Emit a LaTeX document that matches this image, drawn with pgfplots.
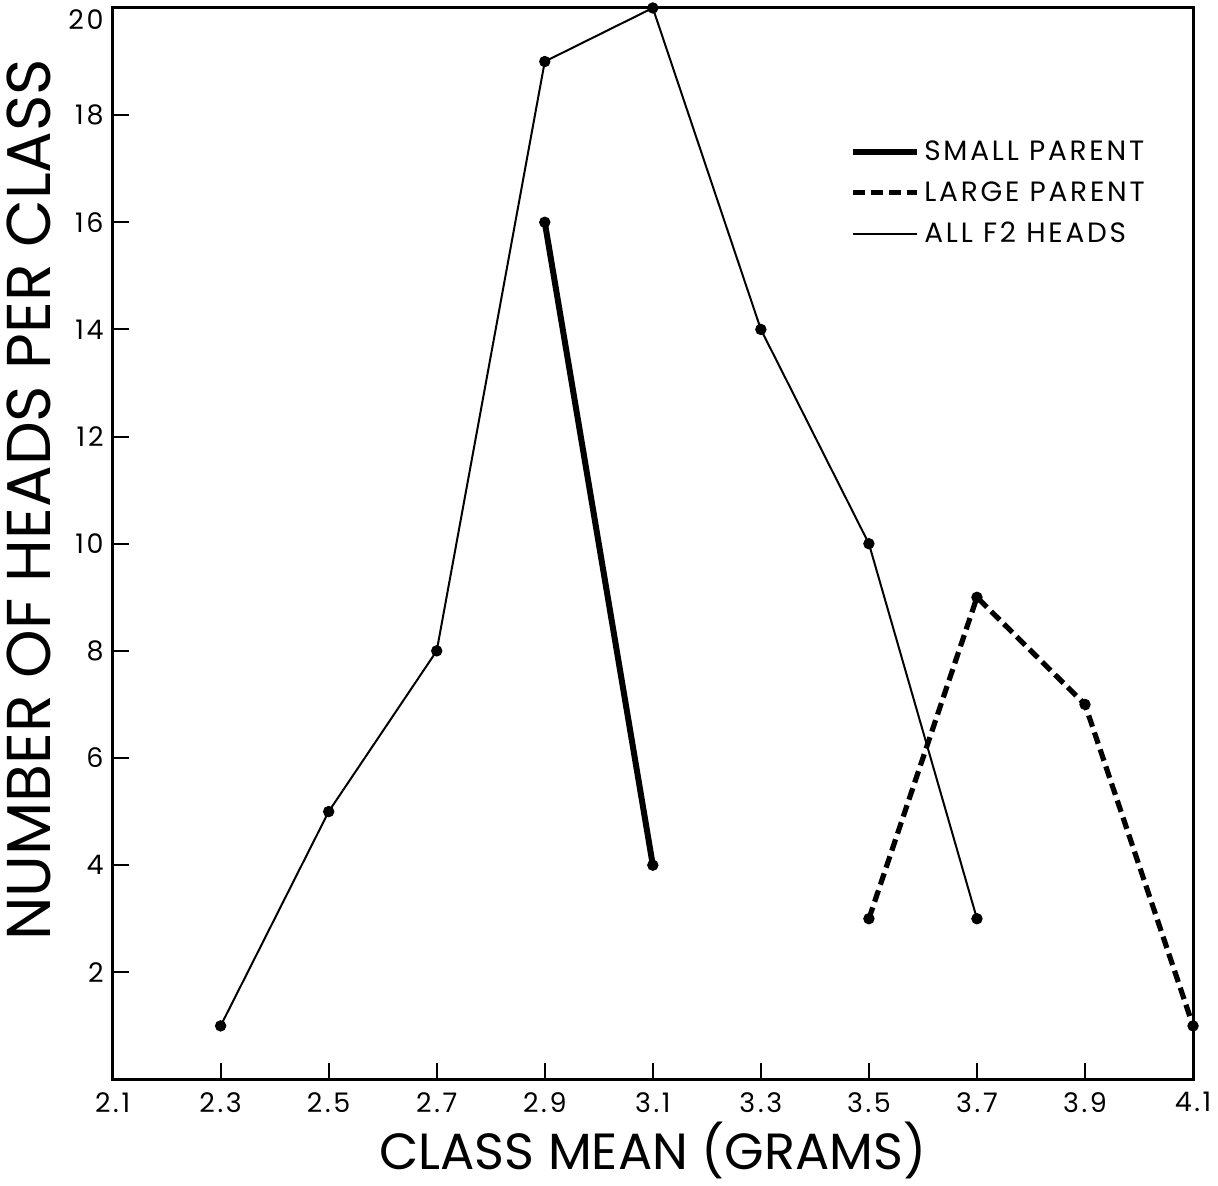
\documentclass[border=0pt]{standalone}
\usepackage{pgfplots}
\pgfplotsset{compat=1.18}
\usepackage{fontspec}
\setmainfont{Poppins}
\newfontfamily\spaced{Poppins}[LetterSpace=10]
\begin{document}
\begin{tikzpicture}
  \begin{axis}[
      width=541.5pt, height=537pt,
      scale only axis,
      xmin=2.1, xmax=4.1,
      ymin=0, ymax=20,
      xtick={2.1,2.3,...,4.15},
      xticklabels={2.1,2.3,2.5,2.7,2.9,3.1,3.3,3.5,3.7,3.9,4.1},
      ytick={2,4,...,18},
      extra y ticks={20},
      extra y tick style={yticklabel style={yshift=-6pt}},
      tick align=inside,
      major tick length=8pt,
      xtick pos=bottom, ytick pos=left,
      axis line style={line width=1.5pt},
      tick style={line width=1pt, black},
      tick label style={font=\spaced\fontsize{13.5}{15}\selectfont},
      yticklabel style={xshift=-1pt},
      xticklabel style={yshift=-3pt},
      /pgf/number format/assume math mode=true,
      xlabel={CLASS MEAN (GRAMS)},
      ylabel={NUMBER OF HEADS PER CLASS},
      xlabel style={font=\fontsize{25.5}{28}\selectfont, yshift=2pt},
      ylabel style={font=\fontsize{31}{34}\selectfont, yshift=2pt, xshift=22pt},
      legend style={draw=none, fill=none, at={(0.677,0.884)}, anchor=north west,
        font=\spaced\fontsize{14}{16}\selectfont, row sep=5pt,
        legend cell align=left},
      legend image code/.code={\draw[#1] (0pt,0pt) -- (32pt,0pt);},
      clip=false,
    ]
    \addplot[black, line width=3pt, mark=*, mark size=2.6pt, mark options={solid, line width=0.5pt}]
      coordinates {(2.9,16) (3.1,4)};
    \addlegendentry{SMALL PARENT}
    \addplot[black, line width=2.6pt, dash pattern=on 6pt off 3pt, mark=*, mark size=2.6pt, mark options={solid, line width=0.5pt}]
      coordinates {(3.5,3) (3.7,9) (3.9,7) (4.1,1)};
    \addlegendentry{LARGE PARENT}
    \addplot[black, line width=1pt, mark=*, mark size=2.6pt, mark options={line width=0.5pt}]
      coordinates {(2.3,1) (2.5,5) (2.7,8) (2.9,19) (3.1,20) (3.3,14) (3.5,10) (3.7,3)};
    \addlegendentry{ALL F2 HEADS}
  \end{axis}
  \path ([yshift=4pt]current axis.north);
\end{tikzpicture}
\end{document}
